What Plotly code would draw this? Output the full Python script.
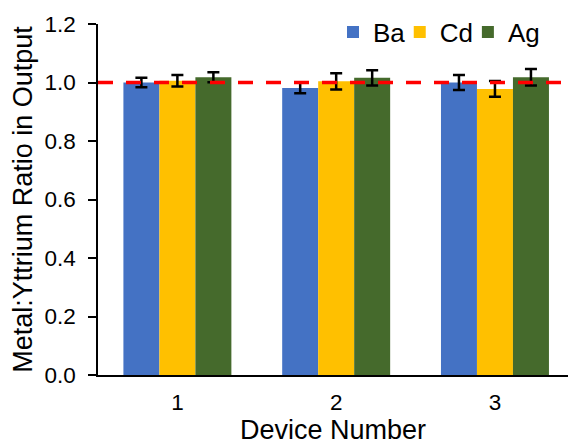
import plotly.graph_objects as go

devices = ["1", "2", "3"]
series_names = ["Ba", "Cd", "Ag"]
ba_values = [1.000, 0.981, 1.000]
cd_values = [1.006, 1.004, 0.978]
ag_values = [1.018, 1.016, 1.018]
ba_errors = [0.016, 0.018, 0.026]
cd_errors = [0.020, 0.028, 0.027]
ag_errors = [0.017, 0.026, 0.028]
reference_ratio = 1.0
y_ticks = [0.0, 0.2, 0.4, 0.6, 0.8, 1.0, 1.2]

colors = ["#4472C4", "#FFC000", "#456A2C"]
values = [ba_values, cd_values, ag_values]
errors = [ba_errors, cd_errors, ag_errors]
legend_ids = ["legend", "legend2", "legend3"]
legend_x = [0.50, 0.642, 0.787]

FONT = "Liberation Sans, Arial, sans-serif"

fig = go.Figure()
for name, vals, errs, col, lid in zip(series_names, values, errors, colors, legend_ids):
    fig.add_trace(go.Bar(
        x=devices, y=vals, name=name, legend=lid,
        marker=dict(color=col, line=dict(width=0)),
        error_y=dict(type="data", array=errs, visible=True,
                     color="black", thickness=2.5, width=6),
    ))

fig.add_shape(type="line", xref="paper", x0=0, x1=1, yref="y",
              y0=reference_ratio, y1=reference_ratio,
              line=dict(color="#FF0000", width=3.5, dash="15px,13px"),
              layer="above")

legend_common = dict(orientation="h", xanchor="left", y=0.977, yanchor="middle",
                     font=dict(size=26, family=FONT), bgcolor="rgba(0,0,0,0)")

fig.update_layout(
    width=568, height=445,
    margin=dict(l=98, r=0, t=24, b=70, autoexpand=False),
    paper_bgcolor="white", plot_bgcolor="white",
    barmode="group", bargap=0.32, bargroupgap=0,
    font=dict(family=FONT, color="black", size=22.5),
    showlegend=True,
    legend=dict(x=legend_x[0], **legend_common),
    legend2=dict(x=legend_x[1], **legend_common),
    legend3=dict(x=legend_x[2], **legend_common),
    xaxis=dict(type="category", range=[-0.5, 2.46],
               showline=True, linecolor="black", linewidth=1.5,
               ticks="", showgrid=False, zeroline=False,
               tickfont=dict(size=22.5, family=FONT), ticklabelstandoff=6,
               title=dict(text="Device Number", font=dict(size=27, family=FONT), standoff=4)),
    yaxis=dict(range=[0, 1.2], tickvals=y_ticks,
               ticktext=[f"{v:.1f}" for v in y_ticks],
               showline=True, linecolor="black", linewidth=1.5,
               ticks="outside", ticklen=8, tickcolor="black", tickwidth=1.5,
               showgrid=False, zeroline=False,
               tickfont=dict(size=22.5, family=FONT), ticklabelstandoff=8,
               title=dict(text="Metal:Yttrium Ratio in Output",
                          font=dict(size=27, family=FONT), standoff=4)),
)

fig.write_html("out.html")
